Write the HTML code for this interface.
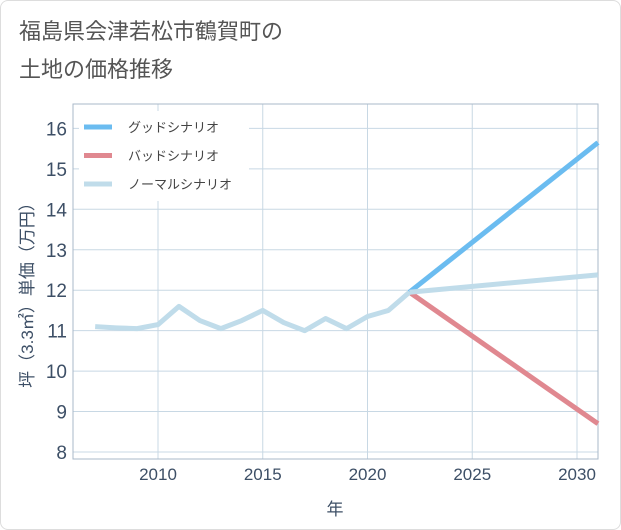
<!DOCTYPE html>
<html><head><meta charset="utf-8"><style>
body{margin:0;background:#fff;font-family:"Liberation Sans","Noto Sans CJK JP",sans-serif;}
#wrap{position:relative;width:619px;height:528px;border:1px solid #ddd;border-radius:8px;background:#fff;overflow:hidden}
</style></head><body>
<div id="wrap">
<svg id="c" width="621" height="530"></svg>
</div>
<script>
const years=[2007,2008,2009,2010,2011,2012,2013,2014,2015,2016,2017,2018,2019,2020,2021,2022];
const normalHist=[11.1,11.07,11.05,11.15,11.6,11.25,11.05,11.25,11.5,11.2,11.0,11.3,11.05,11.35,11.5,11.95];
const projYears=[2022,2031];
const goodVals=[11.95,15.65];
const badVals=[11.95,8.7];
const normalProj=[11.95,12.38];
const yTicks=[8,9,10,11,12,13,14,15,16];
const xTicks=[2010,2015,2020,2025,2030];
const NS="http://www.w3.org/2000/svg";
const svg=document.getElementById('c');
const L=72,R=597,T=103,B=458;
function xs(y){return 157+(y-2010)*20.95;}
function ys(v){return 451-(v-8)*40.45;}
function mk(t,a,p){const e=document.createElementNS(NS,t);for(const k in a)e.setAttribute(k,a[k]);(p||svg).appendChild(e);return e;}
function txt(s,a){const e=mk('text',a);e.textContent=s;return e;}
let e;
e=txt('福島県会津若松市鶴賀町の',{x:18,y:38,'font-size':22,fill:'#555'});


e=txt('土地の価格推移',{x:18,y:76,'font-size':22,fill:'#555'});


yTicks.forEach(v=>{
 e=mk('line',{x1:L,x2:R,y1:ys(v),y2:ys(v),stroke:'#c8d8e4','stroke-width':1});
 
 
 e=txt(v,{x:L-6,y:ys(v)+7,'font-size':19,fill:'#3d4f66','text-anchor':'end'});
 
 
});
xTicks.forEach(v=>{
 e=mk('line',{x1:xs(v),x2:xs(v),y1:T,y2:B,stroke:'#c8d8e4','stroke-width':1});
 
 
 e=txt(v,{x:xs(v),y:B+21,'font-size':17,fill:'#3d4f66','text-anchor':'middle'});
 
 
});
e=mk('rect',{x:L,y:T,width:R-L,height:B-T,fill:'none',stroke:'#aab8c8','stroke-width':1});


e=txt('年',{x:334,y:514,'font-size':17,fill:'#3d4f66','text-anchor':'middle'});


e=txt('坪（3.3㎡）単価（万円）',{x:0,y:0,'font-size':17,fill:'#3d4f66','text-anchor':'middle',transform:'translate(32,290) rotate(-90)'});


function line(xv,yv,col,name){
 const d=xv.map((x,i)=>(i?'L':'M')+xs(x)+','+ys(yv[i])).join(' ');
 const p=mk('path',{d:d,fill:'none',stroke:col,'stroke-width':5,'stroke-linejoin':'round'});
 
 
}
line(projYears,badVals,'#e08890','bad-scenario-line');
line(projYears,goodVals,'#6bbcf0','good-scenario-line');
line(years,normalHist,'#c0dcea','normal-history-line');
line(projYears,normalProj,'#c0dcea','normal-scenario-line');
e=mk('rect',{x:78,y:110,width:170,height:90,fill:'#fff'});


[['グッドシナリオ','#6bbcf0'],['バッドシナリオ','#e08890'],['ノーマルシナリオ','#c0dcea']].forEach((l,i)=>{
 const y=126+i*28.5;
 e=mk('line',{x1:83,x2:111,y1:y,y2:y,stroke:l[1],'stroke-width':5});
 
 
 e=txt(l[0],{x:127,y:y+5,'font-size':13,fill:'#444'});
 
 
});
</script>
</body></html>
